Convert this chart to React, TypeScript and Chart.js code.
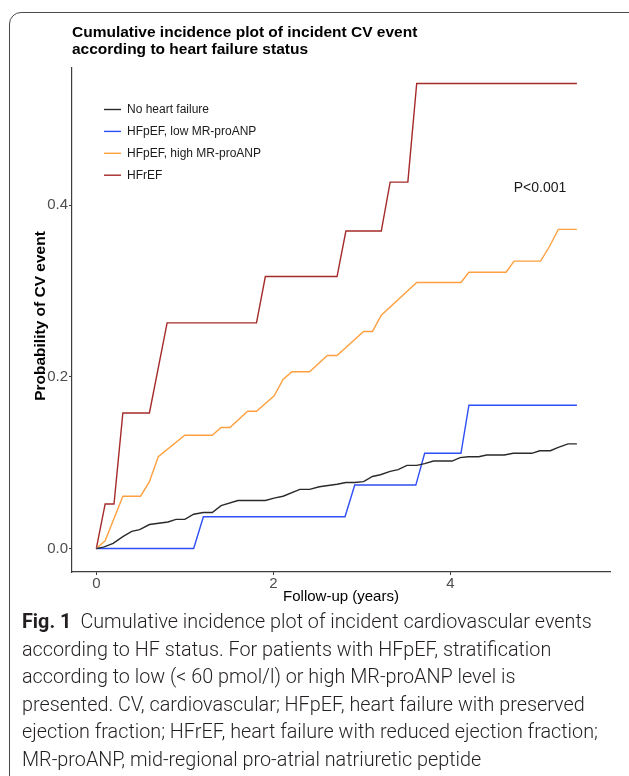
import React, { useEffect, useRef } from "react";
import { Chart, registerables } from "chart.js";

Chart.register(...registerables);

// ---- Data ----
const seriesLabels = [
  "No heart failure",
  "HFpEF, low MR-proANP",
  "HFpEF, high MR-proANP",
  "HFrEF",
];

const noHfX = [0, 0.09, 0.19, 0.3, 0.4, 0.49, 0.6, 0.81, 0.9, 1.0, 1.1, 1.21, 1.31, 1.41, 1.6, 1.91, 2.02, 2.11, 2.3, 2.41, 2.52, 2.72, 2.82, 2.92, 3.02, 3.12, 3.21, 3.32, 3.41, 3.51, 3.62, 3.71, 3.81, 4.02, 4.11, 4.2, 4.32, 4.41, 4.61, 4.71, 4.92, 5.01, 5.13, 5.22, 5.33, 5.43];
const noHfY = [0, 0.002, 0.006, 0.014, 0.02, 0.022, 0.028, 0.031, 0.034, 0.034, 0.04, 0.042, 0.042, 0.05, 0.056, 0.056, 0.059, 0.061, 0.069, 0.069, 0.072, 0.075, 0.077, 0.077, 0.078, 0.084, 0.086, 0.09, 0.092, 0.097, 0.097, 0.099, 0.102, 0.102, 0.106, 0.107, 0.107, 0.109, 0.109, 0.111, 0.111, 0.114, 0.114, 0.118, 0.122, 0.122];

const lowX = [0, 1.1, 1.21, 2.81, 2.92, 3.61, 3.71, 4.12, 4.21, 5.43];
const lowY = [0, 0, 0.037, 0.037, 0.074, 0.074, 0.111, 0.111, 0.167, 0.167];

const highX = [0, 0.1, 0.3, 0.5, 0.6, 0.7, 1.0, 1.31, 1.41, 1.51, 1.71, 1.81, 2.01, 2.11, 2.21, 2.41, 2.61, 2.72, 3.02, 3.12, 3.22, 3.62, 4.12, 4.21, 4.63, 4.72, 5.02, 5.12, 5.22, 5.43];
const highY = [0, 0.009, 0.061, 0.061, 0.078, 0.107, 0.132, 0.132, 0.141, 0.141, 0.16, 0.16, 0.178, 0.197, 0.206, 0.206, 0.225, 0.225, 0.253, 0.253, 0.272, 0.31, 0.31, 0.322, 0.322, 0.335, 0.335, 0.352, 0.372, 0.372];

const hfrefX = [0, 0.1, 0.2, 0.3, 0.6, 0.8, 1.81, 1.91, 2.72, 2.82, 3.22, 3.32, 3.52, 3.62, 5.43];
const hfrefY = [0, 0.052, 0.052, 0.158, 0.158, 0.263, 0.263, 0.317, 0.317, 0.37, 0.37, 0.427, 0.427, 0.542, 0.542];

const xTicks = [0, 2, 4];
const yTicks = [0, 0.2, 0.4];

const titleLines = [
  "Cumulative incidence plot of incident CV event",
  "according to heart failure status",
];
const xTitle = "Follow-up (years)";
const yTitle = "Probability of CV event";
const pText = "P<0.001";

const captionLines = [
  "according to HF status. For patients with HFpEF, stratification",
  "according to low (< 60 pmol/l) or high MR-proANP level is",
  "presented. CV, cardiovascular; HFpEF, heart failure with preserved",
  "ejection fraction; HFrEF, heart failure with reduced ejection fraction;",
  "MR-proANP, mid-regional pro-atrial natriuretic peptide",
];
const captionFirst = "Cumulative incidence plot of incident cardiovascular events";

const colors = ["#2a2a2a", "#2f4ef5", "#ffa040", "#a52a2a"];

const FONT = '"Liberation Sans", Arial, Helvetica, sans-serif';

function toPoints(xs: number[], ys: number[]) {
  return xs.map((x, i) => ({ x, y: ys[i] }));
}

const textPlugin = {
  id: "figureTexts",
  afterDraw(chart: any) {
    const ctx = chart.ctx as CanvasRenderingContext2D;
    const area = chart.chartArea;
    ctx.save();
    // Title
    ctx.fillStyle = "#000";
    ctx.textAlign = "left";
    ctx.textBaseline = "middle";
    ctx.font = `bold 15.5px ${FONT}`;
    titleLines.forEach((t, i) => ctx.fillText(t, area.left, 33 + i * 17));

    // Y axis title
    ctx.save();
    ctx.translate(41, 316);
    ctx.rotate(-Math.PI / 2);
    ctx.textAlign = "center";
    ctx.font = `bold 15.5px ${FONT}`;
    ctx.fillText(yTitle, 0, 0);
    ctx.restore();

    // Legend
    ctx.font = `12px ${FONT}`;
    ctx.textAlign = "left";
    chart.data.datasets.forEach((ds: any, i: number) => {
      const y = area.top + 41.5 + i * 21.9;
      ctx.strokeStyle = ds.borderColor;
      ctx.lineWidth = 1.4;
      ctx.beginPath();
      ctx.moveTo(area.left + 32, y);
      ctx.lineTo(area.left + 49, y);
      ctx.stroke();
      ctx.fillStyle = "#1a1a1a";
      ctx.fillText(ds.label, area.left + 55, y);
    });

    // P value
    ctx.font = `14px ${FONT}`;
    ctx.fillStyle = "#1a1a1a";
    ctx.textAlign = "center";
    ctx.fillText(pText, 540, 188);
    ctx.restore();
  },
};

function ChartFigure() {
  const ref = useRef<HTMLCanvasElement | null>(null);
  useEffect(() => {
    if (!ref.current) return;
    const seriesX = [noHfX, lowX, highX, hfrefX];
    const seriesY = [noHfY, lowY, highY, hfrefY];
    const chart = new Chart(ref.current, {
      type: "line",
      data: {
        datasets: seriesLabels.map((label, i) => ({
          label,
          data: toPoints(seriesX[i], seriesY[i]),
          borderColor: colors[i],
          backgroundColor: colors[i],
          borderWidth: 1.4,
          pointRadius: 0,
          tension: 0,
          fill: false,
        })),
      },
      options: {
        responsive: false,
        animation: false,
        devicePixelRatio: 1,
        layout: { padding: { top: 68, right: 19, bottom: 0, left: 0 } },
        plugins: {
          legend: { display: false },
          tooltip: { enabled: false },
          title: { display: false },
        },
        scales: {
          x: {
            type: "linear",
            min: -0.2746,
            max: 5.804,
            afterBuildTicks: (scale: any) => {
              scale.ticks = xTicks.map((value) => ({ value }));
            },
            afterFit: (scale: any) => {
              scale.height = 38;
            },
            grid: {
              display: true,
              drawOnChartArea: false,
              drawTicks: true,
              tickLength: 3,
              color: "#3d3d3d",
              lineWidth: 1,
            },
            border: { display: true, color: "#3d3d3d", width: 1.2 },
            ticks: {
              font: { family: FONT, size: 15 },
              color: "#4d4d4d",
              padding: 0,
              maxRotation: 0,
              callback: (v: any) => String(v),
            },
            title: {
              display: true,
              text: xTitle,
              color: "#000",
              font: { family: FONT, size: 15 },
              padding: { top: 0, bottom: 4 },
            },
          },
          y: {
            type: "linear",
            min: -0.0273,
            max: 0.56,
            afterBuildTicks: (scale: any) => {
              scale.ticks = yTicks.map((value) => ({ value }));
            },
            afterFit: (scale: any) => {
              scale.width = 72;
            },
            grid: {
              display: true,
              drawOnChartArea: false,
              drawTicks: true,
              tickLength: 3,
              color: "#3d3d3d",
              lineWidth: 1,
            },
            border: { display: true, color: "#3d3d3d", width: 1.2 },
            ticks: {
              font: { family: FONT, size: 15 },
              color: "#4d4d4d",
              padding: 1,
              callback: (v: any) => Number(v).toFixed(1),
            },
          },
        },
      },
      plugins: [textPlugin],
    });
    return () => chart.destroy();
  }, []);
  return (
    <canvas
      ref={ref}
      width={629}
      height={610}
      style={{ position: "absolute", left: 0, top: 0, width: 629, height: 610 }}
    />
  );
}

export default function App() {
  return (
    <div
      style={{
        position: "fixed",
        left: 0,
        top: 0,
        width: 629,
        height: 776,
        overflow: "hidden",
        background: "#fff",
      }}
    >
      <div
        style={{
          position: "absolute",
          left: 9,
          top: 12,
          width: 700,
          height: 900,
          border: "1.5px solid #4a4a4a",
          borderRadius: 12,
          boxSizing: "border-box",
        }}
      />
      <ChartFigure />
      <div
        style={{
          position: "absolute",
          left: 22,
          top: 608,
          fontFamily: "Roboto, 'Open Sans', sans-serif",
          fontWeight: 300,
          fontSize: 19.8,
          lineHeight: "27.6px",
          color: "#231f20",
          whiteSpace: "nowrap",
        }}
      >
        <div>
          <span style={{ fontWeight: 700 }}>Fig. 1</span>
          <span style={{ marginLeft: 9 }}>{captionFirst}</span>
        </div>
        {captionLines.map((l, i) => (
          <div key={i}>{l}</div>
        ))}
      </div>
    </div>
  );
}
